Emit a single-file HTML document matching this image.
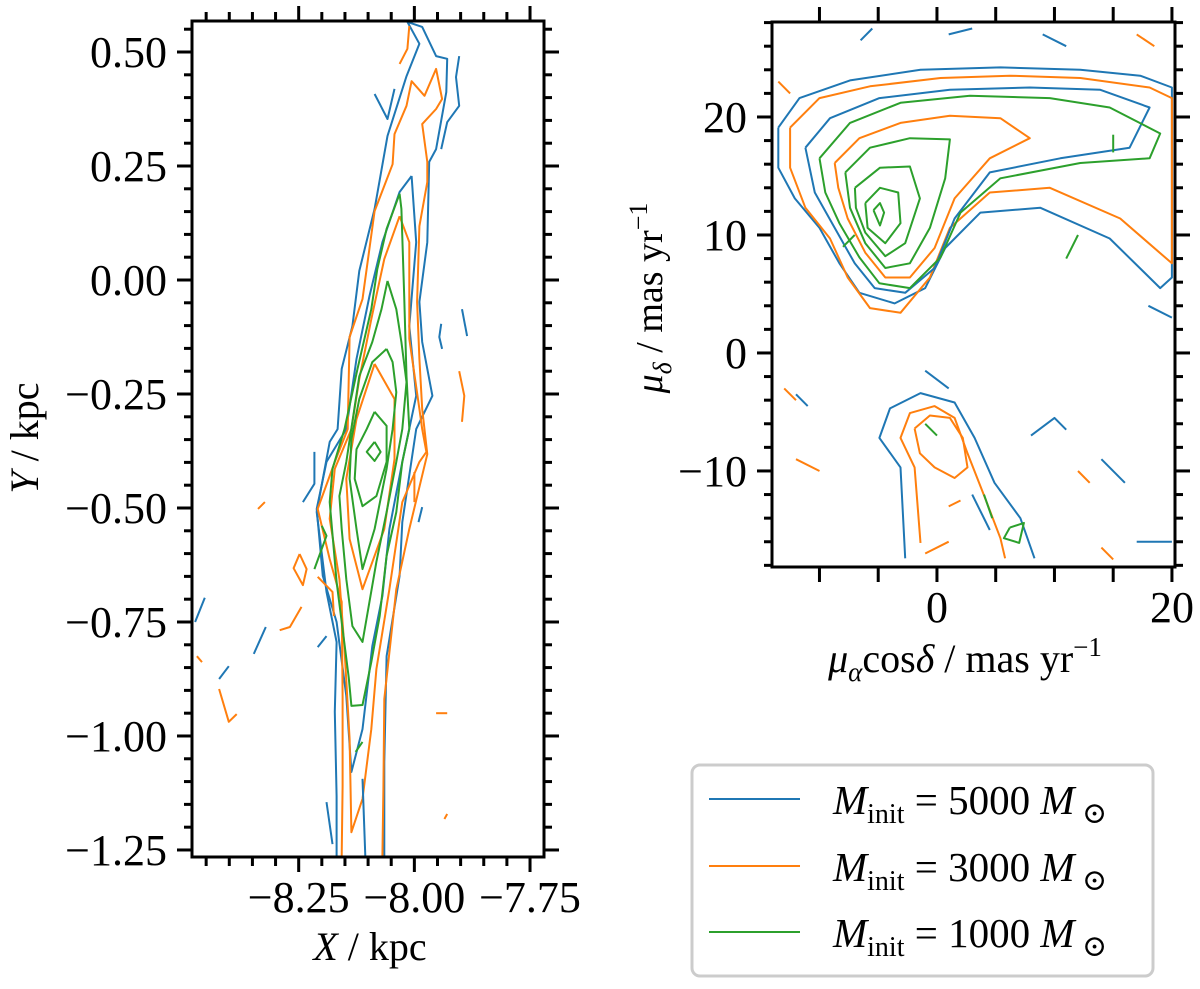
<!DOCTYPE html>
<html><head><meta charset="utf-8"><style>
html,body{margin:0;padding:0;background:#fff;}
svg{display:block;font-family:"Liberation Serif","DejaVu Serif",serif;}
</style></head><body>
<svg id="chart" width="1200" height="989" viewBox="0 0 1200 989" xmlns="http://www.w3.org/2000/svg">
<g id="left"></g>
<g id="right"></g>
<g id="legend">
<rect x="692" y="765" width="461" height="211" rx="8" fill="#fff" stroke="#cccccc" stroke-width="3"/>
<g><line x1="709" y1="799" x2="800" y2="799" stroke="#1f77b4" stroke-width="2"/><text x="833" y="814" font-size="41"><tspan font-style="italic">M</tspan><tspan font-size="28" dy="9">init</tspan><tspan dy="-9"> = 5000 </tspan><tspan font-style="italic">M</tspan><tspan font-size="30" dy="9"> ⊙</tspan></text></g>
<g><line x1="709" y1="866" x2="800" y2="866" stroke="#ff7f0e" stroke-width="2"/><text x="833" y="881" font-size="41"><tspan font-style="italic">M</tspan><tspan font-size="28" dy="9">init</tspan><tspan dy="-9"> = 3000 </tspan><tspan font-style="italic">M</tspan><tspan font-size="30" dy="9"> ⊙</tspan></text></g>
<g><line x1="709" y1="932" x2="800" y2="932" stroke="#2ca02c" stroke-width="2"/><text x="833" y="947" font-size="41"><tspan font-style="italic">M</tspan><tspan font-size="28" dy="9">init</tspan><tspan dy="-9"> = 1000 </tspan><tspan font-style="italic">M</tspan><tspan font-size="30" dy="9"> ⊙</tspan></text></g>
</g>
</svg>
<script>
const COLORS = {blue:"#1f77b4", orange:"#ff7f0e", green:"#2ca02c"};
// Left panel contour data (X kpc, Y kpc)
const leftBlue1 = [[-8.168,-1.263],[-8.168,-1.132],[-8.172,-0.947],[-8.168,-0.794],[-8.190,-0.684],[-8.211,-0.509],[-8.183,-0.355],[-8.166,-0.327],[-8.157,-0.195],[-8.134,-0.101],[-8.119,0.020],[-8.086,0.156],[-8.058,0.316],[-8.017,0.447],[-7.989,0.518],[-8.015,0.566],[-7.983,0.555],[-7.953,0.491],[-7.929,0.485],[-7.931,0.412],[-7.953,0.287],[-7.968,0.259],[-7.972,0.083],[-7.989,-0.048],[-7.983,-0.136],[-7.961,-0.254],[-7.996,-0.327],[-8.026,-0.531],[-8.032,-0.649],[-8.060,-0.825],[-8.065,-1.057],[-8.065,-1.263]];
const leftBlue2 = [[-8.006,0.228],[-8.032,0.193],[-8.069,0.083],[-8.097,-0.035],[-8.125,-0.173],[-8.147,-0.327],[-8.190,-0.399],[-8.211,-0.502],[-8.198,-0.649],[-8.168,-0.750],[-8.147,-0.912],[-8.136,-1.079],[-8.112,-0.985],[-8.091,-0.803],[-8.069,-0.693],[-8.054,-0.546],[-8.026,-0.399],[-7.996,-0.254],[-8.011,-0.101],[-7.996,0.083],[-8.006,0.228]];
const leftOrange1 = [[-8.157,-1.263],[-8.155,-1.110],[-8.155,-0.912],[-8.157,-0.706],[-8.183,-0.612],[-8.209,-0.502],[-8.172,-0.399],[-8.144,-0.327],[-8.140,-0.125],[-8.112,-0.042],[-8.086,0.151],[-8.047,0.254],[-8.043,0.320],[-8.017,0.382],[-8.006,0.436],[-7.978,0.404],[-7.953,0.463],[-7.940,0.397],[-7.953,0.375],[-7.983,0.342],[-7.972,0.259],[-7.972,0.215],[-7.989,0.118],[-7.994,-0.048],[-7.989,-0.173],[-7.983,-0.283],[-7.972,-0.382],[-8.011,-0.546],[-8.039,-0.678],[-8.065,-0.919],[-8.067,-1.116],[-8.069,-1.263]];
const leftOrange2 = [[-8.032,0.140],[-8.065,0.046],[-8.093,-0.086],[-8.119,-0.217],[-8.136,-0.327],[-8.172,-0.414],[-8.183,-0.524],[-8.162,-0.656],[-8.151,-0.809],[-8.140,-1.007],[-8.136,-1.211],[-8.112,-1.138],[-8.093,-0.985],[-8.082,-0.853],[-8.054,-0.678],[-8.026,-0.487],[-7.989,-0.399],[-7.974,-0.377],[-7.983,-0.327],[-7.989,-0.283],[-8.011,-0.129],[-8.011,0.083],[-8.032,0.140]];
const leftOrange3 = [[-8.086,-0.184],[-8.043,-0.261],[-8.043,-0.393],[-8.065,-0.546],[-8.112,-0.678],[-8.140,-0.568],[-8.147,-0.436],[-8.125,-0.305],[-8.086,-0.184]];
const leftGreen1 = [[-8.032,0.189],[-8.060,0.112],[-8.080,0.024],[-8.093,-0.064],[-8.123,-0.195],[-8.151,-0.327],[-8.177,-0.414],[-8.183,-0.487],[-8.168,-0.662],[-8.142,-0.871],[-8.136,-0.934],[-8.112,-0.932],[-8.093,-0.838],[-8.075,-0.737],[-8.060,-0.605],[-8.039,-0.509],[-8.026,-0.399],[-8.011,-0.327],[-8.017,-0.211],[-8.022,-0.035],[-8.028,0.156],[-8.032,0.189]];
const leftGreen2 = [[-8.058,-0.002],[-8.039,-0.064],[-8.028,-0.136],[-8.017,-0.224],[-8.026,-0.327],[-8.039,-0.399],[-8.060,-0.509],[-8.082,-0.618],[-8.112,-0.794],[-8.134,-0.759],[-8.147,-0.656],[-8.157,-0.546],[-8.162,-0.474],[-8.147,-0.399],[-8.119,-0.211],[-8.091,-0.136],[-8.071,-0.064],[-8.058,-0.002]];
const leftGreen3 = [[-8.060,-0.151],[-8.047,-0.180],[-8.039,-0.246],[-8.047,-0.327],[-8.060,-0.414],[-8.086,-0.546],[-8.112,-0.634],[-8.125,-0.546],[-8.140,-0.436],[-8.136,-0.349],[-8.119,-0.261],[-8.091,-0.180],[-8.060,-0.151]];
const leftGreen4 = [[-8.086,-0.289],[-8.060,-0.320],[-8.060,-0.399],[-8.082,-0.474],[-8.112,-0.496],[-8.129,-0.436],[-8.125,-0.371],[-8.103,-0.327],[-8.086,-0.289]];
const leftGreen5 = [[-8.086,-0.355],[-8.073,-0.377],[-8.086,-0.397],[-8.103,-0.377],[-8.086,-0.355]];
const leftFragBlue = [[[-8.086,0.408],[-8.058,0.353],[-8.043,0.419]],[[-7.903,0.491],[-7.910,0.445],[-7.903,0.382],[-7.929,0.346],[-7.942,0.287]],[[-7.897,-0.064],[-7.886,-0.123]],[[-7.942,-0.096],[-7.946,-0.125],[-7.940,-0.151]],[[-8.453,-0.697],[-8.474,-0.750]],[[-8.321,-0.761],[-8.347,-0.820]],[[-8.401,-0.847],[-8.422,-0.875]],[[-7.983,-0.498],[-7.991,-0.531]],[[-8.190,-0.781],[-8.209,-0.805]],[[-8.216,-0.377],[-8.216,-0.447],[-8.241,-0.487]],[[-8.190,-1.145],[-8.177,-1.237]],[[-8.106,-1.263],[-8.112,-1.094]]];
const leftFragOrange = [[[-8.032,0.474],[-8.015,0.507],[-8.011,0.557]],[[-7.903,-0.200],[-7.892,-0.254],[-7.897,-0.311]],[[-8.338,-0.502],[-8.323,-0.487]],[[-8.248,-0.601],[-8.233,-0.634],[-8.241,-0.669],[-8.261,-0.632],[-8.248,-0.601]],[[-8.291,-0.768],[-8.269,-0.761],[-8.244,-0.717]],[[-8.422,-0.897],[-8.401,-0.969],[-8.384,-0.952]],[[-8.470,-0.825],[-8.459,-0.838]],[[-7.953,-0.950],[-7.929,-0.950]],[[-8.000,-0.421],[-8.000,-0.487]],[[-8.209,-0.651],[-8.177,-0.684],[-8.174,-0.737]],[[-7.935,-1.182],[-7.929,-1.171]]];
const leftFragGreen = [[[-8.200,-0.539],[-8.190,-0.561],[-8.216,-0.634]],[[-8.127,-1.035],[-8.112,-1.013]]];

// Right panel contour data (mu_alpha cos delta, mu_delta) in mas/yr
const rightBlue1 = [[-13.5,19.1],[-11.7,21.6],[-7.4,23.1],[-1.4,24.0],[5.4,24.2],[12.2,24.0],[17.3,23.5],[20.0,22.5],[20.0,6.4],[19.0,5.5],[14.7,9.7],[8.8,12.3],[3.7,11.9],[0.7,8.9],[-1.0,5.5],[-3.6,4.2],[-6.6,5.1],[-8.3,7.6],[-10.0,10.6],[-12.1,13.1],[-13.5,15.7],[-13.5,19.1]];
const rightOrange1 = [[-12.5,19.1],[-10.0,21.6],[-5.7,22.6],[0.3,23.3],[6.2,23.5],[12.2,23.3],[18.1,22.5],[20.0,21.6],[20.0,7.6],[15.6,11.4],[9.6,14.0],[4.5,13.6],[1.1,10.6],[-0.6,6.4],[-3.1,3.4],[-5.7,3.8],[-7.6,6.4],[-9.1,9.7],[-11.2,12.3],[-12.5,15.7],[-12.5,19.1]];
const rightBlue2 = [[-11.2,17.4],[-9.1,19.9],[-4.9,21.6],[1.1,22.3],[7.9,22.5],[13.9,22.3],[18.1,20.8],[16.4,17.4],[10.5,16.5],[4.5,15.3],[1.5,11.4],[-0.2,7.2],[-2.7,5.1],[-5.3,5.5],[-7.0,7.6],[-8.7,10.6],[-10.4,13.6],[-11.2,17.4]];
const rightGreen1 = [[-10.0,16.5],[-7.4,19.5],[-3.1,21.2],[2.8,21.8],[9.6,21.6],[14.7,20.8],[19.0,18.6],[18.1,16.5],[12.2,16.1],[5.4,14.8],[2.0,11.9],[0.3,8.1],[-2.3,5.5],[-4.9,5.9],[-6.6,8.1],[-8.3,11.0],[-9.5,13.6],[-10.0,16.5]];
const rightOrange2 = [[-8.7,16.1],[-6.6,18.2],[-3.1,19.5],[1.1,20.1],[5.4,19.9],[7.9,18.2],[4.5,16.5],[1.5,13.1],[-0.2,8.9],[-2.3,6.4],[-4.4,6.4],[-6.1,8.5],[-7.6,11.4],[-8.4,14.0],[-8.7,16.1]];
const rightGreen2 = [[-7.8,15.3],[-5.7,17.4],[-2.3,18.2],[1.1,18.1],[0.7,14.8],[-0.6,10.6],[-2.3,7.6],[-4.4,7.2],[-6.1,9.3],[-7.4,12.3],[-7.8,15.3]];
const rightGreen3 = [[-6.98,14.0],[-4.85,15.7],[-2.3,15.8],[-1.45,13.1],[-2.7,9.3],[-4.4,8.2],[-6.1,10.2],[-6.9,12.3],[-6.98,14.0]];
const rightGreen4 = [[-6.1,12.7],[-4.85,14.0],[-3.3,13.6],[-3.1,11.0],[-4.4,9.3],[-5.9,10.6],[-6.1,12.7]];
const rightGreen5 = [[-5.4,12.1],[-4.85,12.7],[-4.5,11.9],[-4.85,10.8],[-5.4,12.1]];
const rightBlueLow = [[-2.7,-17.4],[-3.1,-9.7],[-4.9,-7.2],[-4.0,-4.7],[-1.4,-3.4],[1.5,-4.2],[3.2,-7.2],[4.9,-11.0],[7.1,-14.0],[8.3,-17.4]];
const rightOrangeLow = [[-1.4,-16.1],[-1.9,-9.7],[-3.1,-7.2],[-2.3,-5.1],[-0.2,-4.5],[1.5,-5.5],[2.6,-8.5],[4.1,-12.3],[5.4,-15.7],[5.8,-17.4]];
const rightOrangeLowIn = [[-1.9,-6.4],[-0.6,-5.3],[1.1,-5.5],[2.2,-7.2],[2.6,-9.7],[1.5,-10.6],[-0.2,-9.7],[-1.45,-8.5],[-1.9,-6.4]];
const rightGreenLow = [[6.2,-14.8],[7.4,-14.4],[7.0,-16.1],[5.7,-15.7],[6.2,-14.8]];
const rightFragBlue = [[[-6.5,26.5],[-5.5,27.5]],[[1,27],[3,27.5]],[[9,27],[11,26]],[[-12,-3.5],[-11,-4.5]],[[8,-7],[10,-5.5],[11,-6.5]],[[14,-9],[16,-11]],[[17,-16],[20,-16]],[[18,4],[20,3]],[[-1,-1.5],[1,-3]],[[3,-12],[4.5,-15]]];
const rightFragOrange = [[[17,27],[18.5,26]],[[-13,-3],[-12,-4]],[[-12,-9],[-10,-10]],[[12,-10],[13,-11]],[[14,-16.5],[15,-17.5]],[[1,-13],[2,-12.5]],[[-1,-17],[1,-16]],[[-13.5,23],[-12.5,22]]];
const rightFragGreen = [[[-8,9],[-7,10]],[[12,10],[11,8]],[[15,17],[15,18.5]],[[0,-7],[-1,-6]],[[4,-12],[4.7,-14]]];

const leftTicksX = [-8.25,-8.00,-7.75];
const leftTickLabelsX = ["−8.25","−8.00","−7.75"];
const leftTicksY = [0.5,0.25,0,-0.25,-0.5,-0.75,-1.0,-1.25];
const leftTickLabelsY = ["0.50","0.25","0.00","−0.25","−0.50","−0.75","−1.00","−1.25"];
const rightTicksX = [0,20];
const rightTickLabelsX = ["0","20"];
const rightTicksY = [20,10,0,-10];
const rightTickLabelsY = ["20","10","0","−10"];

const NS="http://www.w3.org/2000/svg";
function mk(tag, attrs, parent){const e=document.createElementNS(NS,tag);for(const k in attrs)e.setAttribute(k,attrs[k]);parent.appendChild(e);return e;}

const L={x0:192,x1:544,y0:21,y1:857,xmin:-8.4806,xmax:-7.7198,ymin:-1.2654,ymax:0.568};
const R={x0:772,x1:1175,y0:22,y1:567,xmin:-14.04,xmax:20.26,ymin:-18.14,ymax:28.05};
function sx(A,v){return A.x0+(v-A.xmin)/(A.xmax-A.xmin)*(A.x1-A.x0);}
function sy(A,v){return A.y1-(v-A.ymin)/(A.ymax-A.ymin)*(A.y1-A.y0);}

function drawLines(A,g,pts,color,name){
  const d=pts.map((p,i)=>(i?"L":"M")+sx(A,p[0]).toFixed(1)+","+sy(A,p[1]).toFixed(1)).join("");
  const p=mk("path",{d:d,fill:"none",stroke:color,"stroke-width":2,"stroke-linejoin":"round"},g);
  
  
}

function axes(A,g,majX,labX,majY,labY,minStepX,minStepY,name,xMinorLen){
  const clipId=name+"-clip";
  const defs=mk("defs",{},g);
  const cp=mk("clipPath",{id:clipId},defs);
  mk("rect",{x:A.x0,y:A.y0,width:A.x1-A.x0,height:A.y1-A.y0},cp);
  const cg=mk("g",{"clip-path":"url(#"+clipId+")"},g);
  
  
  const tg=mk("g",{stroke:"#000","stroke-width":3},g);
  
  
  for(let v=Math.ceil(A.xmin/minStepX-1e-6)*minStepX; v<=A.xmax+1e-9; v+=minStepX){
    const x=sx(A,v); const major=majX.some(m=>Math.abs(m-v)<minStepX/4);
    const len=major?15:xMinorLen;
    mk("line",{x1:x,y1:A.y1,x2:x,y2:A.y1+len},tg);
    mk("line",{x1:x,y1:A.y0,x2:x,y2:A.y0-len},tg);
  }
  for(let v=Math.ceil(A.ymin/minStepY-1e-6)*minStepY; v<=A.ymax+1e-9; v+=minStepY){
    const y=sy(A,v); const major=majY.some(m=>Math.abs(m-v)<minStepY/4);
    const len=major?15:8;
    mk("line",{x1:A.x0,y1:y,x2:A.x0-len,y2:y},tg);
    mk("line",{x1:A.x1,y1:y,x2:A.x1+len,y2:y},tg);
  }
  majX.forEach((v,i)=>{const t=mk("text",{x:sx(A,v),y:A.y1+55,"font-size":44,"text-anchor":"middle"},g);t.textContent=labX[i];
    
    });
  majY.forEach((v,i)=>{const t=mk("text",{x:A.x0-25,y:sy(A,v)+15,"font-size":44,"text-anchor":"end"},g);t.textContent=labY[i];
    
    });
  const fr=mk("rect",{x:A.x0,y:A.y0,width:A.x1-A.x0,height:A.y1-A.y0,fill:"none",stroke:"#000","stroke-width":3},g);
  
  
  return cg;
}

const lg=document.getElementById("left");
const lc=axes(L,lg,leftTicksX,leftTickLabelsX,leftTicksY,leftTickLabelsY,0.05,0.05,"left",9);
drawLines(L,lc,leftBlue1,COLORS.blue,"contour-5000-level-1");
drawLines(L,lc,leftBlue2,COLORS.blue,"contour-5000-level-2");
drawLines(L,lc,leftOrange1,COLORS.orange,"contour-3000-level-1");
drawLines(L,lc,leftOrange2,COLORS.orange,"contour-3000-level-2");
drawLines(L,lc,leftOrange3,COLORS.orange,"contour-3000-level-3");
drawLines(L,lc,leftGreen1,COLORS.green,"contour-1000-level-1");
drawLines(L,lc,leftGreen2,COLORS.green,"contour-1000-level-2");
drawLines(L,lc,leftGreen3,COLORS.green,"contour-1000-level-3");
drawLines(L,lc,leftGreen4,COLORS.green,"contour-1000-level-4");
drawLines(L,lc,leftGreen5,COLORS.green,"contour-1000-level-5");
leftFragBlue.forEach(f=>drawLines(L,lc,f,COLORS.blue,"contour-5000-fragment"));
leftFragOrange.forEach(f=>drawLines(L,lc,f,COLORS.orange,"contour-3000-fragment"));
leftFragGreen.forEach(f=>drawLines(L,lc,f,COLORS.green,"contour-1000-fragment"));

const rg=document.getElementById("right");
const rc=axes(R,rg,rightTicksX,rightTickLabelsX,rightTicksY,rightTickLabelsY,5,2,"right",15);
drawLines(R,rc,rightBlue1,COLORS.blue,"pm-contour-5000-level-1");
drawLines(R,rc,rightOrange1,COLORS.orange,"pm-contour-3000-level-1");
drawLines(R,rc,rightBlue2,COLORS.blue,"pm-contour-5000-level-2");
drawLines(R,rc,rightGreen1,COLORS.green,"pm-contour-1000-level-1");
drawLines(R,rc,rightOrange2,COLORS.orange,"pm-contour-3000-level-2");
drawLines(R,rc,rightGreen2,COLORS.green,"pm-contour-1000-level-2");
drawLines(R,rc,rightGreen3,COLORS.green,"pm-contour-1000-level-3");
drawLines(R,rc,rightGreen4,COLORS.green,"pm-contour-1000-level-4");
drawLines(R,rc,rightGreen5,COLORS.green,"pm-contour-1000-level-5");
drawLines(R,rc,rightBlueLow,COLORS.blue,"pm-contour-5000-lower");
drawLines(R,rc,rightOrangeLow,COLORS.orange,"pm-contour-3000-lower");
drawLines(R,rc,rightOrangeLowIn,COLORS.orange,"pm-contour-3000-lower-inner");
drawLines(R,rc,rightGreenLow,COLORS.green,"pm-contour-1000-lower");
rightFragBlue.forEach(f=>drawLines(R,rc,f,COLORS.blue,"pm-contour-5000-fragment"));
rightFragOrange.forEach(f=>drawLines(R,rc,f,COLORS.orange,"pm-contour-3000-fragment"));
rightFragGreen.forEach(f=>drawLines(R,rc,f,COLORS.green,"pm-contour-1000-fragment"));

const svg=document.getElementById("chart");
let t;
t=mk("text",{x:370,y:960,"font-size":40,"text-anchor":"middle"},svg);
t.innerHTML='<tspan font-style="italic">X</tspan> / kpc';


t=mk("text",{x:0,y:0,"font-size":40,"text-anchor":"middle",transform:"translate(38,438) rotate(-90)"},svg);
t.innerHTML='<tspan font-style="italic">Y</tspan> / kpc';


t=mk("text",{x:965,y:672,"font-size":40,"text-anchor":"middle"},svg);
t.innerHTML='<tspan font-style="italic">μ</tspan><tspan font-style="italic" font-size="27" dy="9">α</tspan><tspan dy="-9">cos</tspan><tspan font-style="italic">δ</tspan> / mas yr<tspan font-size="27" dy="-16">−1</tspan>';


t=mk("text",{x:0,y:0,"font-size":38,"text-anchor":"middle",transform:"translate(662,298) rotate(-90)"},svg);
t.innerHTML='<tspan font-style="italic">μ</tspan><tspan font-style="italic" font-size="26" dy="9">δ</tspan><tspan dy="-9"> / mas yr</tspan><tspan font-size="26" dy="-15">−1</tspan>';


</script>
</body></html>
